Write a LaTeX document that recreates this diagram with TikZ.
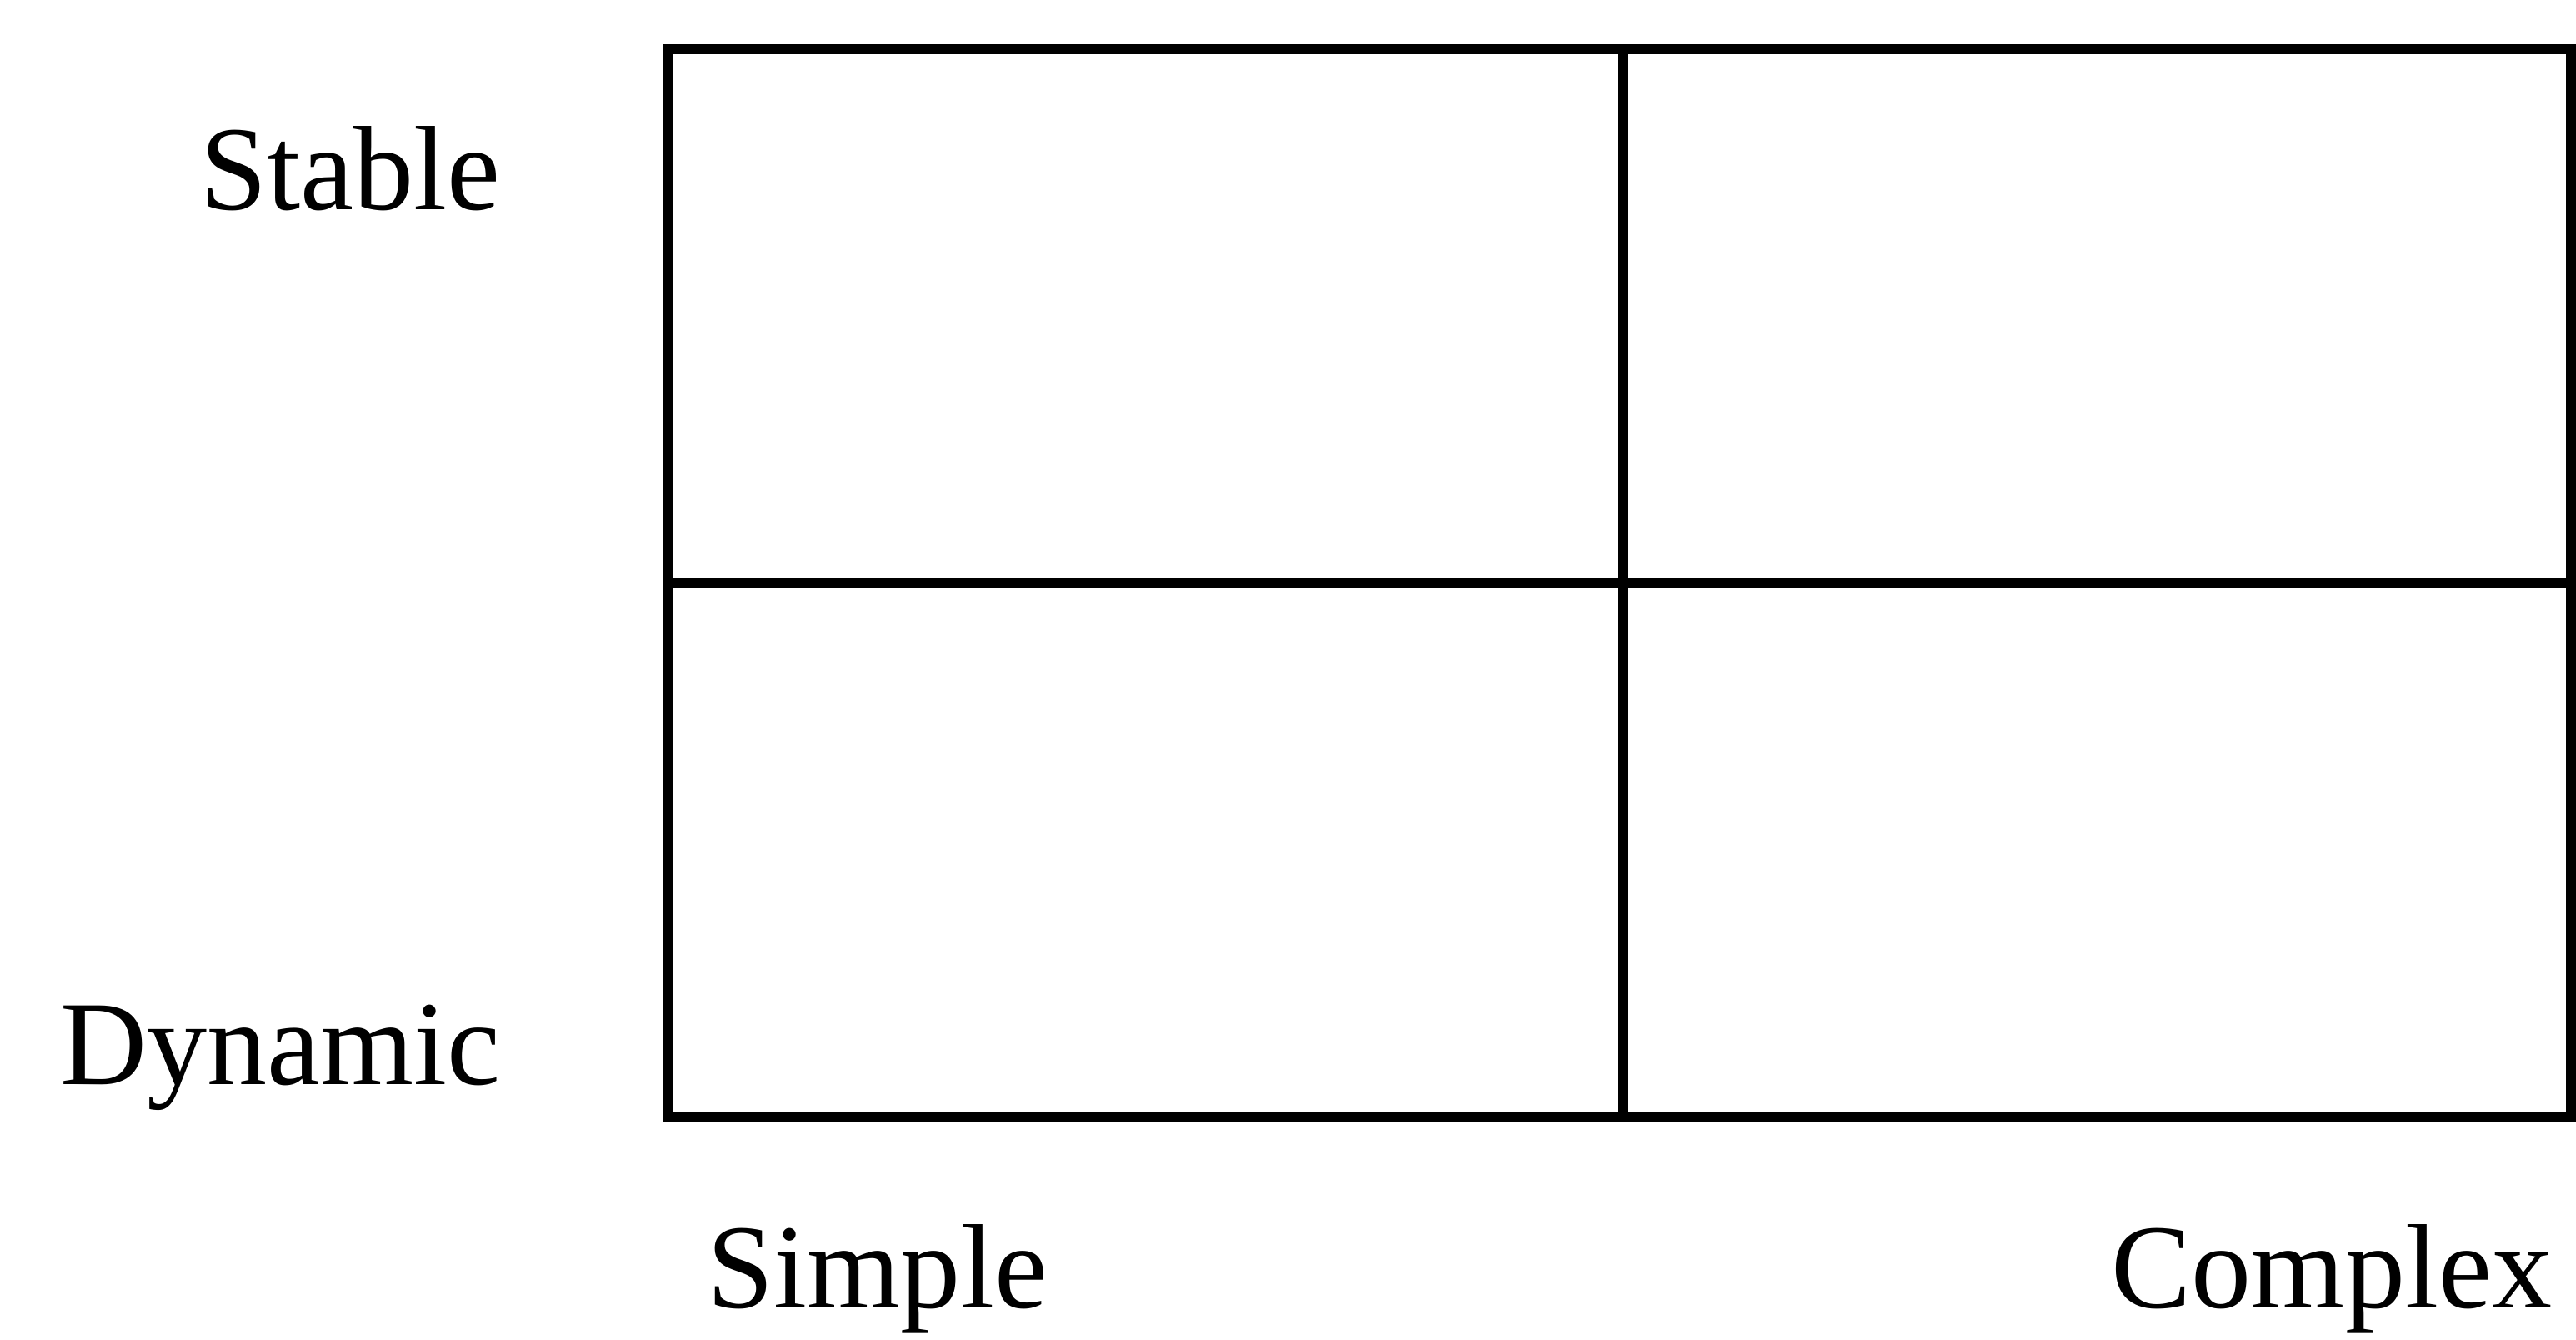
\documentclass[tikz,border=0pt]{standalone}
\usepackage{fontspec}
\setmainfont{Liberation Serif}
\usetikzlibrary{positioning}

\begin{document}
\begin{tikzpicture}[
  cell/.style={rectangle, draw, line width=3.4pt, minimum height=6.41cm, inner sep=0pt, outer sep=0pt},
  lbl/.style={inner sep=0pt, font=\fontsize{41}{49}\selectfont}
]
\useasboundingbox (0,0) rectangle (30.91,16.07);
% quadrants
\node[cell, minimum width=11.46cm, anchor=north west] (ss) at (8.02,15.48) {};
\node[cell, minimum width=11.37cm, anchor=north west] (cs) at (ss.north east) {};
\node[cell, minimum width=11.46cm, anchor=north west] (sd) at (ss.south west) {};
\node[cell, minimum width=11.37cm, anchor=north west] (cd) at (ss.south east) {};
% axis labels
\node[lbl, anchor=base east] (stable) at (6.01,13.55) {Stable};
\node[lbl, anchor=base east] (dynamic) at (6.01,3.06) {Dynamic};
\node[lbl, anchor=base west] (simple) at (8.48,0.38) {Simple};
\node[lbl, anchor=base west] (complex) at (25.33,0.38) {Complex};
\end{tikzpicture}
\end{document}
